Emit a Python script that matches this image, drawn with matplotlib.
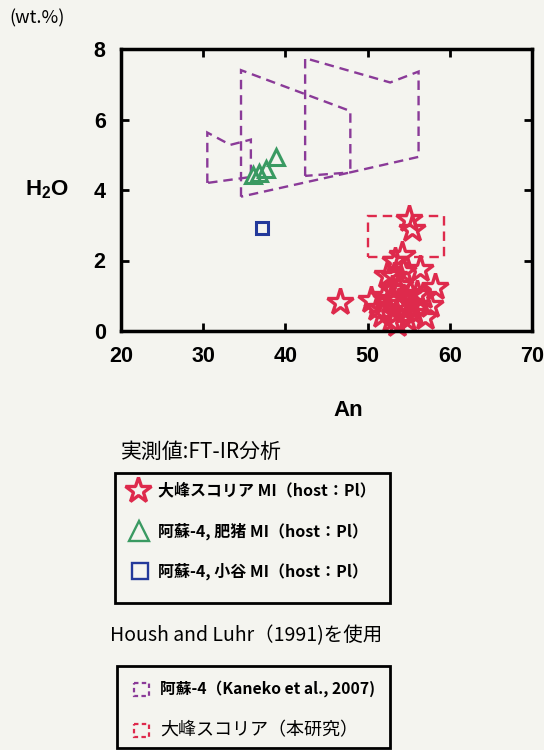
import matplotlib
matplotlib.use('Agg')
import matplotlib.pyplot as plt
from matplotlib.patches import Polygon, Rectangle

plt.rcParams['font.family'] = ['Liberation Sans', 'Noto Sans CJK JP', 'DejaVu Sans']
plt.rcParams['mathtext.fontset'] = 'custom'
plt.rcParams['mathtext.rm'] = 'Liberation Sans'
plt.rcParams['mathtext.bf'] = 'Liberation Sans:bold'

# データ: 大峰スコリア MI (An, H2O)
omine_an = [46.7, 50.4, 55.0, 55.4, 54.2, 56.4, 58.2, 53.2, 57.6, 57.0,
            52.3, 51.7, 52.9, 53.9, 55.1, 54.5, 53.5, 52.8, 54.0, 56.0,
            55.6, 51.2, 53.0, 54.8, 56.8, 52.0, 53.6, 55.3, 53.3, 54.3]
omine_h2o = [0.82, 0.88, 3.19, 2.90, 2.15, 1.77, 1.25, 1.55, 0.75, 0.40,
             1.60, 0.45, 0.30, 0.78, 1.07, 0.60, 0.50, 0.90, 1.30, 1.05,
             0.50, 0.65, 1.20, 0.35, 1.00, 1.00, 0.20, 0.80, 2.00, 1.70]

# 阿蘇-4 肥猪 MI
hiino_an = [36.0, 36.8, 37.6, 38.9]
hiino_h2o = [4.42, 4.48, 4.60, 4.95]

# 阿蘇-4 小谷 MI
odani_an = [37.15]
odani_h2o = [2.91]

# Housh and Luhr (1991) 阿蘇-4 範囲
aso_poly_a = [(30.5, 4.20), (30.5, 5.63), (33.3, 5.28), (35.8, 5.43), (35.8, 4.37)]
aso_poly_b = [(34.6, 3.81), (34.6, 7.40), (47.9, 6.24), (47.9, 4.50)]
aso_poly_c = [(42.4, 4.40), (42.4, 7.74), (52.75, 7.05), (56.2, 7.36), (56.2, 4.94), (47.9, 4.50)]

# 大峰スコリア 範囲
omine_an_range = (50.0, 59.3)
omine_h2o_range = (2.10, 3.27)

purple = '#8a3a98'
red = '#de2a4c'
green = '#3a9a62'
blue = '#23399a'
bg = '#f4f4ef'

fig = plt.figure(figsize=(5.44, 7.5), dpi=100, facecolor=bg)
ax = fig.add_axes([121/544, 1-331/750, 411/544, 282/750])
ax.set_facecolor(bg)

for poly in [aso_poly_a, aso_poly_b, aso_poly_c]:
    ax.add_patch(Polygon(poly, closed=True, fill=False, edgecolor=purple,
                         linestyle=(0, (4, 2.5)), linewidth=1.7))

ax.add_patch(Rectangle((omine_an_range[0], omine_h2o_range[0]),
                       omine_an_range[1] - omine_an_range[0],
                       omine_h2o_range[1] - omine_h2o_range[0],
                       fill=False, edgecolor=red, linestyle=(0, (4, 2.5)), linewidth=1.7))

ax.plot(omine_an, omine_h2o, linestyle='none', marker='*', markersize=20,
        markerfacecolor='none', markeredgecolor=red, markeredgewidth=2.4, clip_on=False)
ax.plot(hiino_an, hiino_h2o, linestyle='none', marker='^', markersize=11,
        markerfacecolor='none', markeredgecolor=green, markeredgewidth=2.2)
ax.plot(odani_an, odani_h2o, linestyle='none', marker='s', markersize=9,
        markerfacecolor='none', markeredgecolor=blue, markeredgewidth=2.2)

ax.set_xlim(20, 70)
ax.set_ylim(0, 8)
ax.set_xticks([20, 30, 40, 50, 60, 70])
ax.set_yticks([0, 2, 4, 6, 8])
ax.tick_params(direction='in', top=True, right=True, length=6, width=2,
               labelsize=15.5, pad=11)
for lab in ax.get_xticklabels() + ax.get_yticklabels():
    lab.set_fontweight('bold')
for sp in ax.spines.values():
    sp.set_linewidth(2.5)

jp = ['Noto Sans CJK JP', 'DejaVu Sans']
fig.text(47/544, 1-190/750, r'$\mathbf{H_2O}$', fontsize=16, ha='center', va='center')
fig.text(348/544, 1-410/750, 'An', fontsize=16, fontweight='bold', ha='center', va='center')
fig.text(9/544, 1-18/750, '(wt.%)', fontsize=13, family=jp, ha='left', va='center')

# 凡例エリア（ピクセル座標）
lg = fig.add_axes([0, 0, 1, 1], facecolor='none')
lg.set_xlim(0, 544)
lg.set_ylim(750, 0)
lg.axis('off')

lg.text(121, 452, '実測値:FT-IR分析', fontsize=15, family=jp, va='center', ha='left')
lg.add_patch(Rectangle((115, 473), 275, 130, fill=False, edgecolor='black', linewidth=2))
lg.plot([138], [490], marker='*', markersize=19, markerfacecolor='none',
        markeredgecolor=red, markeredgewidth=2.4)
lg.plot([139], [531], marker='^', markersize=14, markerfacecolor='none',
        markeredgecolor=green, markeredgewidth=1.7)
lg.plot([140], [571], marker='s', markersize=11, markerfacecolor='none',
        markeredgecolor=blue, markeredgewidth=1.7)
entries = ['大峰スコリア MI（host：Pl）', '阿蘇-4, 肥猪 MI（host：Pl）', '阿蘇-4, 小谷 MI（host：Pl）']
for yy, t in zip([490, 531, 571], entries):
    lg.text(158, yy, t, fontsize=11.5, family=jp, fontweight='bold', va='center', ha='left')

lg.text(110, 636, 'Housh and Luhr（1991)を使用', fontsize=14, family=jp, va='center', ha='left')
lg.add_patch(Rectangle((117, 666), 273, 82, fill=False, edgecolor='black', linewidth=2))
for yy, c in [(689, purple), (730, red)]:
    lg.add_patch(Rectangle((134, yy - 6), 15, 13, fill=False, edgecolor=c,
                           linestyle=(0, (2, 1.5)), linewidth=1.6))
lg.text(160, 689, '阿蘇-4（Kaneko et al., 2007)', fontsize=11.3, family=jp,
        fontweight='bold', va='center', ha='left')
lg.text(160, 730, '大峰スコリア（本研究）', fontsize=13, family=jp, va='center', ha='left')

fig.savefig('out.png', dpi=100, facecolor=bg)
